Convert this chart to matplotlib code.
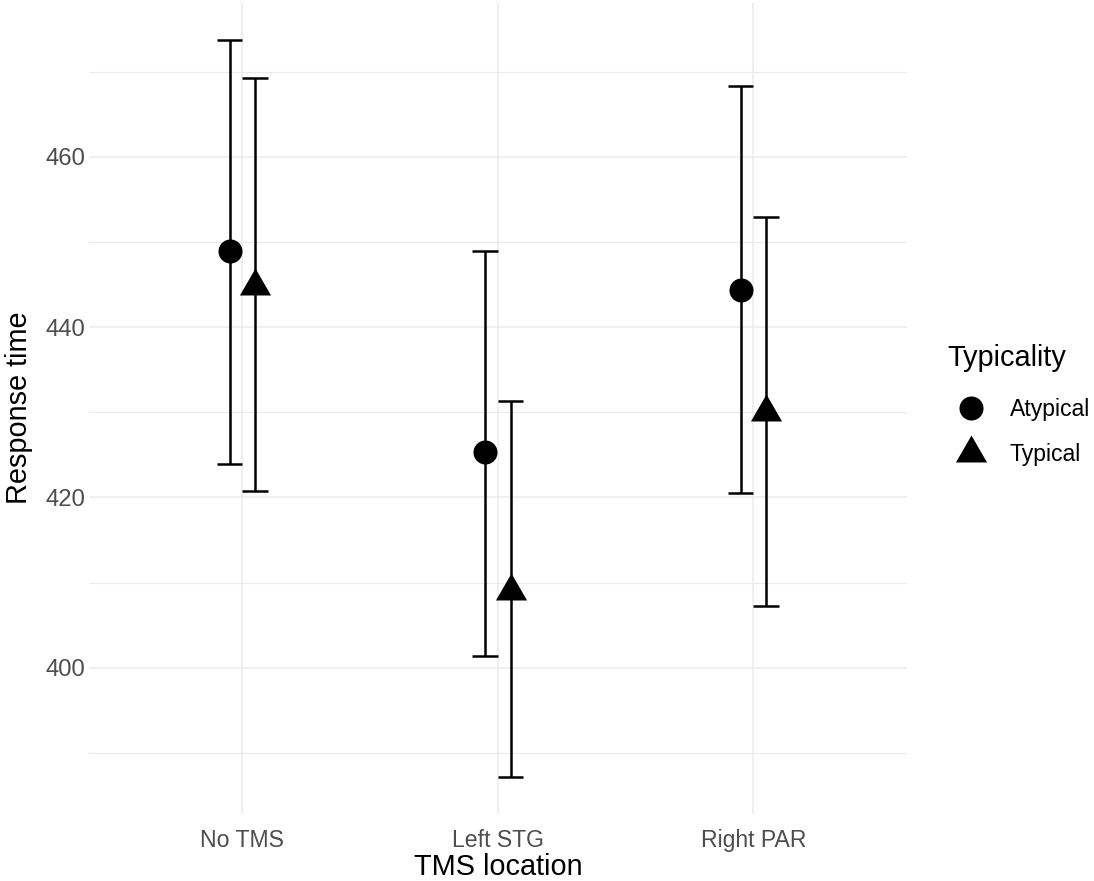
import numpy as np
import matplotlib
matplotlib.use('Agg')
import matplotlib.pyplot as plt
from matplotlib.lines import Line2D
from matplotlib.ticker import MultipleLocator

plt.rcParams['font.family'] = ['Liberation Sans', 'DejaVu Sans']

locations = ['No TMS', 'Left STG', 'Right PAR']
groups = ['Atypical', 'Typical']

atyp_mean = [449.0, 425.3, 444.4]
atyp_low = [423.9, 401.4, 420.5]
atyp_high = [473.8, 448.9, 468.3]

typ_mean = [444.9, 409.0, 430.0]
typ_low = [420.7, 387.2, 407.3]
typ_high = [469.3, 431.3, 453.0]

# equilateral triangle centred on its centroid, like R's pch 17
tri = [(0, 1), (-0.866, -0.5), (0.866, -0.5), (0, 1)]

fig = plt.figure(figsize=(10.94, 8.81), dpi=100)
ax = fig.add_axes([0.0814, 0.0766, 0.7473, 0.9204])

x = np.arange(1, len(locations) + 1)
grid_c = '#EBEBEB'
ink = 'black'

series = [
    (atyp_mean, atyp_low, atyp_high, -0.05, 'o', 17.3),
    (typ_mean, typ_low, typ_high, 0.05, tri, 25.9),
]
for mean, low, high, off, mk, ms in series:
    xs = x + off
    ax.vlines(xs, low, high, color=ink, lw=1.8, zorder=3)
    ax.hlines(low, xs - 0.05, xs + 0.05, color=ink, lw=1.8, zorder=3)
    ax.hlines(high, xs - 0.05, xs + 0.05, color=ink, lw=1.8, zorder=3)
    ax.plot(xs, mean, linestyle='none', marker=mk, markersize=ms,
            color=ink, markeredgewidth=0, zorder=4)

lo = min(min(atyp_low), min(typ_low))
hi = max(max(atyp_high), max(typ_high))
pad = (hi - lo) * 0.05
ax.set_ylim(lo - pad, hi + pad)
ax.set_xlim(0.4, 3.6)

ax.set_xticks(x)
ax.set_xticklabels(locations)
ax.yaxis.set_major_locator(MultipleLocator(20))
ax.yaxis.set_minor_locator(MultipleLocator(10))

ax.grid(which='major', color=grid_c, lw=1.1)
ax.grid(which='minor', axis='y', color=grid_c, lw=0.8)
ax.set_axisbelow(True)
for s in ax.spines.values():
    s.set_visible(False)
ax.tick_params(which='both', length=0)
ax.tick_params(axis='x', labelsize=16.6, labelcolor='#4D4D4D', pad=11)
ax.tick_params(axis='y', labelsize=17.2, labelcolor='#4D4D4D', pad=3)

ax.set_xlabel('TMS location', fontsize=20.8, color='black', labelpad=1)
ax.set_ylabel('Response time', fontsize=20.8, color='black', labelpad=9)

handles = [
    Line2D([], [], linestyle='none', marker='o', markersize=17.3, color=ink, markeredgewidth=0),
    Line2D([], [], linestyle='none', marker=tri, markersize=25.9, color=ink, markeredgewidth=0),
]
leg = fig.legend(handles, groups, title='Typicality', loc='center left',
                 bbox_to_anchor=(936 / 1094, 1 - 405 / 881), frameon=False,
                 fontsize=16.6, title_fontsize=20.8, alignment='left',
                 borderpad=0, handlelength=2, handletextpad=0.7,
                 labelspacing=0.95)
leg._legend_box.sep = 19

fig.savefig('out.png', dpi=100)
